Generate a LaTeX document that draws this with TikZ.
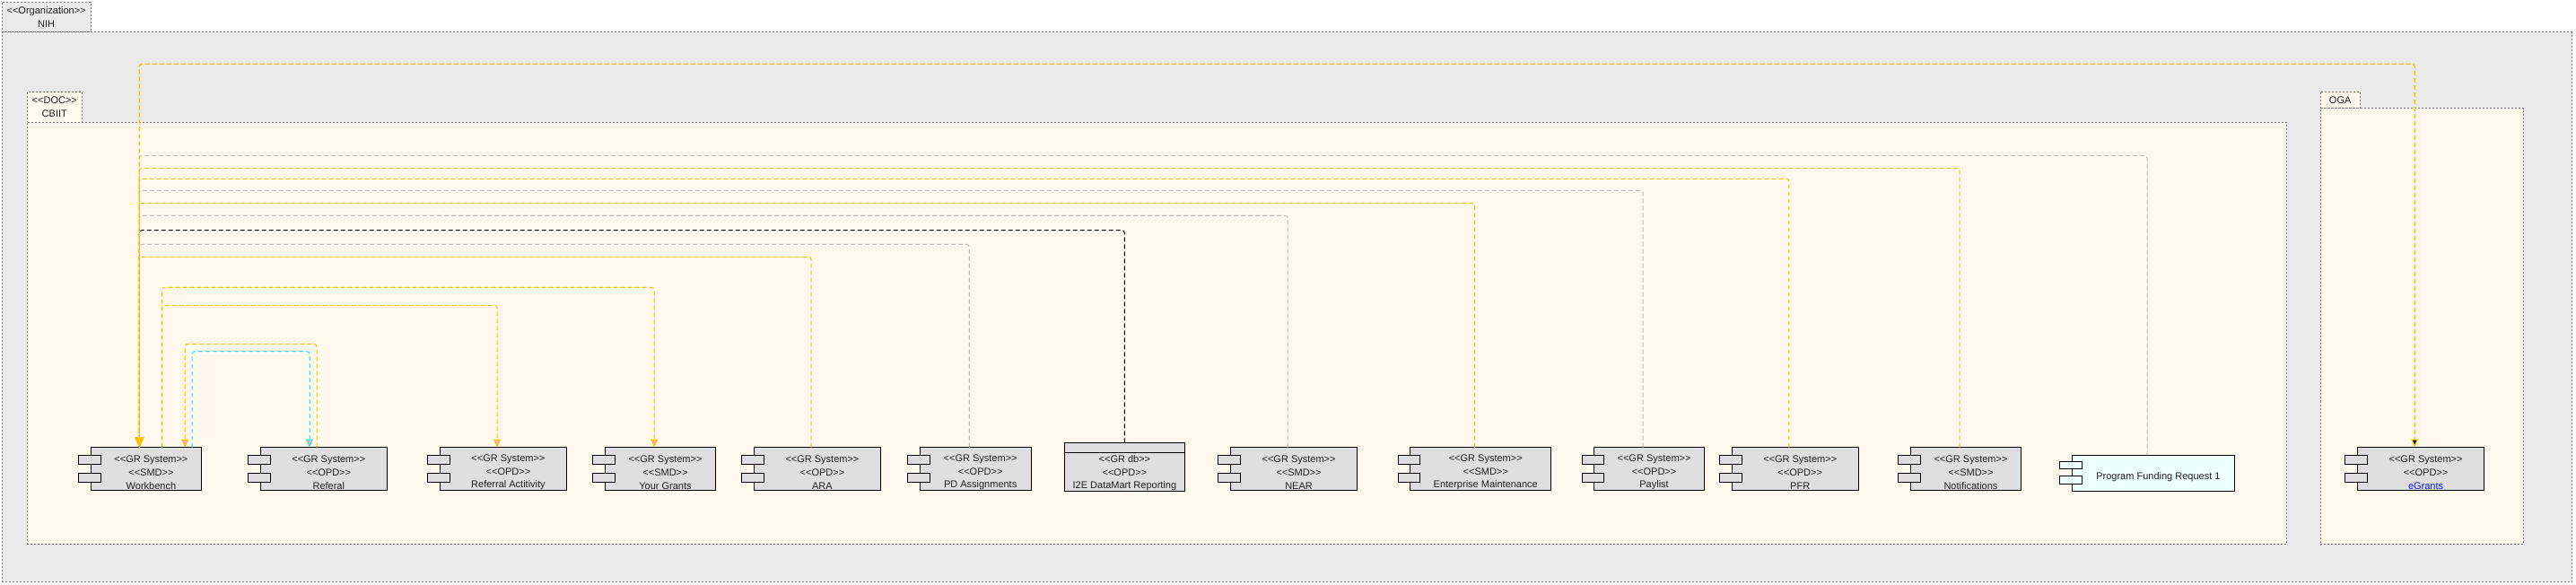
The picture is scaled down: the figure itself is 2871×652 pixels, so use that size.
\documentclass[tikz,border=0pt]{standalone}
\usepackage{fontspec}
\setmainfont{Liberation Sans}[Ligatures=TeXOff]
\usetikzlibrary{arrows.meta,calc}
\definecolor{nihgray}{HTML}{EAEAEA}
\definecolor{cream}{HTML}{FEF9EC}
\definecolor{boxgray}{HTML}{DFDFDF}
\definecolor{pfrcyan}{HTML}{EEFFFF}
\definecolor{conorangec}{HTML}{FFC000}
\definecolor{congrayc}{HTML}{BDBDBD}
\definecolor{concyanc}{HTML}{22E4EE}
\definecolor{arrowpink}{HTML}{F4AFA8}
\definecolor{egblue}{HTML}{1010FF}
\definecolor{bordergray}{HTML}{7A7A7A}
\tikzset{
  lbl/.style={font=\fontsize{11}{14.6}\selectfont, text=black!88, align=center, inner sep=0pt},
  container/.style={draw=bordergray, line width=0.8pt, dash pattern=on 2pt off 2pt, inner sep=0pt, outer sep=0pt},
  body/.style={draw=black, line width=1pt, fill=boxgray, inner sep=0pt, outer sep=0pt},
  icon/.style={draw=black, line width=0.9pt, fill=boxgray},
  conbase/.style={line width=1pt, dash pattern=on 5pt off 3pt, rounded corners=3pt},
  conorange/.style={conbase, draw=conorangec},
  congray/.style={conbase, draw=congrayc},
  conblack/.style={conbase, draw=black},
  concyan/.style={conbase, draw=concyanc},
  tipbig/.style={-{Triangle[width=10pt,length=11pt]}},
  tippink/.style={-{Triangle[width=8pt,length=9pt,fill=arrowpink]}},
  tipblack/.style={-{Triangle[width=8pt,length=9pt,fill=black]}}
}
% name, left, right, top, bottom, extra body style, text
\newcommand\compbox[7]{%
  \node[body, #6, minimum width={#3-#2}, minimum height={#5-#4}] (#1) at ({(#2+#3)/2},{(#4+#5)/2}) {};
  \path[icon, #6] ({#2-13.7},{#4+0.19*(#5-#4)}) rectangle ({#2+11},{#4+0.39*(#5-#4)})
                  ({#2-13.7},{#4+0.59*(#5-#4)}) rectangle ({#2+11},{#4+0.8*(#5-#4)});
  \node[lbl] (#1-t) at ({(#2+#3)/2+5.5},{(#4+#5)/2+4}) {#7};
  \coordinate (#1-p) at ($(#1.north)+(-6.85,0)$);
}
\begin{document}
\begin{tikzpicture}[x=1pt,y=-1pt]
\useasboundingbox (0,0) rectangle (2871,652);
\fill[white] (0,0) rectangle (2871,652);

% containers
\node[container, fill=nihgray, minimum width=98.7, minimum height=33.4, lbl] (nihtab) at (51.65,19) {<<Organization>>\\NIH};
\node[container, fill=nihgray, minimum width=2864.2, minimum height=612.6] (nih) at (1434.4,342) {};
\node[container, fill=cream, minimum width=61, minimum height=33.7, lbl] (cbiittab) at (60.8,119.15) {<<DOC>>\\CBIIT};
\node[container, fill=cream, minimum width=2518.2, minimum height=470.7] (cbiit) at (1289.4,371.35) {};
\node[container, fill=cream, minimum width=44.3, minimum height=18.7, lbl] (ogatab) at (2608.15,111.35) {OGA};
\node[container, fill=cream, minimum width=226.1, minimum height=486] (oga) at (2699.35,363.7) {};

% components
\compbox{wb}{101.3}{224.6}{498.5}{546.8}{}{<<GR System>>\\<<SMD>>\\Workbench}
\compbox{ref}{290.4}{431.2}{498.5}{546.8}{}{<<GR System>>\\<<OPD>>\\Referal}
\compbox{ra}{490.5}{631.4}{498.5}{546.8}{}{<<GR System>>\\<<OPD>>\\Referral Actitivity}
\compbox{yg}{674.4}{797.6}{498.5}{546.8}{}{<<GR System>>\\<<SMD>>\\Your Grants}
\compbox{ara}{840.4}{981.5}{498.5}{546.8}{}{<<GR System>>\\<<OPD>>\\ARA}
\compbox{pda}{1025.3}{1149}{498.5}{546.8}{}{<<GR System>>\\<<OPD>>\\PD Assignments}
\compbox{near}{1371.5}{1512.6}{498.5}{546.8}{}{<<GR System>>\\<<SMD>>\\NEAR}
\compbox{em}{1571.7}{1728.8}{498.5}{546.8}{}{<<GR System>>\\<<SMD>>\\Enterprise Maintenance}
\compbox{pay}{1776.7}{1899.4}{498.5}{546.8}{}{<<GR System>>\\<<OPD>>\\Paylist}
\compbox{pfr}{1930.4}{2071}{498.5}{546.8}{}{<<GR System>>\\<<OPD>>\\PFR}
\compbox{notif}{2129.5}{2252.4}{498.5}{546.8}{}{<<GR System>>\\<<SMD>>\\Notifications}
\compbox{pfrone}{2309.4}{2490.4}{507.3}{547.3}{fill=pfrcyan}{Program Funding Request 1}
\compbox{eg}{2627.5}{2768.6}{498.5}{546.8}{}{<<GR System>>\\<<OPD>>\\\textcolor{egblue}{eGrants}}

% database box
\node[body, minimum width=134, minimum height=54] (i2e) at (1253.4,520.3) {};
\draw[black, line width=1pt] ($(i2e.north west)+(0,11)$) coordinate (i2eh) -- ($(i2e.north east)+(0,11)$);
\node[lbl] (i2e-t) at (1253.4,527.4) {<<GR db>>\\<<OPD>>\\I2E DataMart Reporting};

% anchor points on Workbench and Referal
\coordinate (wbT) at ($(wb.north)+(-7.65,0)$);
\coordinate (wbY) at ($(wb.north)+(17.55,0)$);
\coordinate (wbR) at ($(wb.north)+(43.25,0)$);
\coordinate (wbC) at ($(wb.north)+(51.25,0)$);
\coordinate (refC) at ($(ref.north)+(-15.8,0)$);
\coordinate (refR) at ($(ref.north)+(-7.7,0)$);

% gray and black connectors
\draw[congray] (pfrone-p) |- (wbT |- 0,173.3) -- (wbT);
\draw[congray] (pay-p) |- (wbT |- 0,212.3) -- (wbT);
\draw[congray] (near-p) |- (wbT |- 0,240.3) -- (wbT);
\draw[congray] (pda-p) |- (wbT |- 0,272.3) -- (wbT);
\draw[conblack] (i2e.north) |- (wbT |- 0,256.7) -- (wbT);

% orange connectors
\draw[conorange, line width=1.2pt, tipblack] (wbT) |- (eg-p |- 0,71.3) -- (eg-p);
\draw[conorange, tipbig] (notif-p) |- (wbT |- 0,187.3) -- (wbT);
\draw[conorange, tipbig] (pfr-p) |- (wbT |- 0,199.3) -- (wbT);
\draw[conorange, tipbig] (em-p) |- (wbT |- 0,226.3) -- (wbT);
\draw[conorange, tipbig] (ara-p) |- (wbT |- 0,286.3) -- (wbT);
\draw[conorange, tippink] (wbY) |- (yg-p |- 0,320.3) -- (yg-p);
\draw[conorange, tippink] (wbY) |- (ra-p |- 0,340.3) -- (ra-p);
\draw[conorange, tippink] (refR) |- (wbR |- 0,383.3) -- (wbR);
\draw[concyan, tippink] (wbC) |- (refC |- 0,391.7) -- (refC);
\end{tikzpicture}
\end{document}
